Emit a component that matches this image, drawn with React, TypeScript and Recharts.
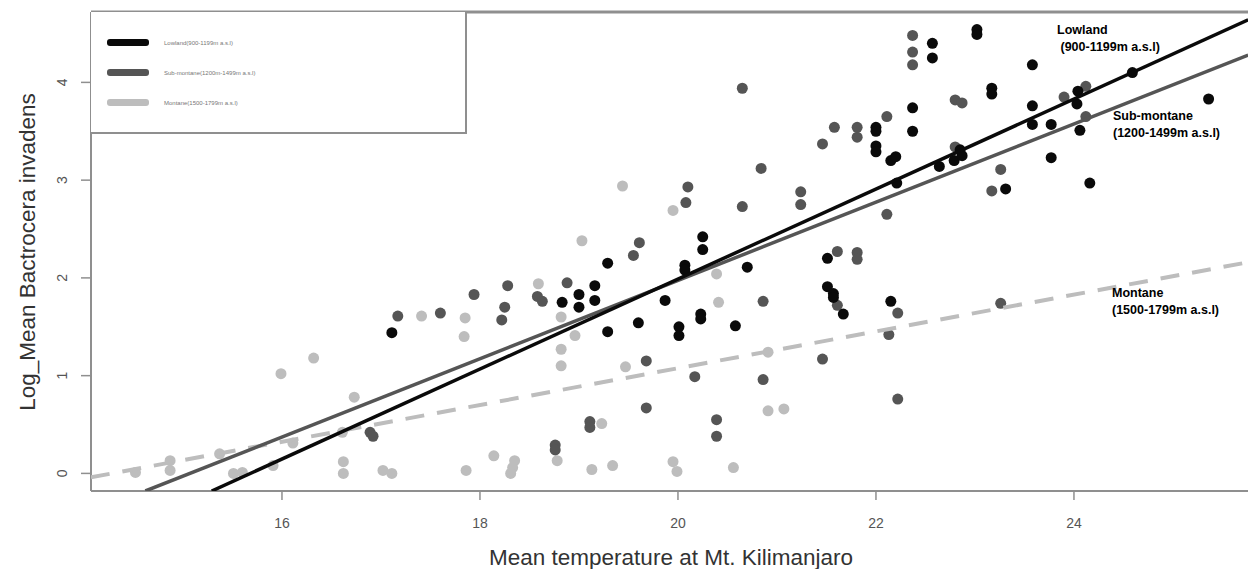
import { ComposedChart, Scatter, XAxis, YAxis, ReferenceLine } from 'recharts';

// Mean temperature (x) vs Log mean B. invadens (y)
const lowlandX = [20.25, 20.25, 19.29, 20.07, 20.07, 20.7, 21.51, 19.16, 19.0, 18.83, 19.16, 19.0, 19.87, 19.29, 19.6, 20.01, 20.01, 20.23, 20.23, 20.58, 21.51, 21.57, 21.57, 21.67, 22.15, 22.57, 22.57, 23.02, 23.02, 23.58, 23.17, 23.17, 22.37, 22.37, 22.0, 22.0, 22.0, 22.0, 22.15, 22.2, 22.21, 22.64, 22.79, 22.85, 22.87, 23.58, 23.58, 23.77, 23.77, 24.04, 24.03, 24.06, 24.59, 25.36, 23.31, 24.16, 17.11];
const lowlandY = [2.42, 2.29, 2.15, 2.13, 2.08, 2.11, 2.2, 1.92, 1.83, 1.75, 1.77, 1.7, 1.77, 1.45, 1.54, 1.5, 1.41, 1.63, 1.58, 1.51, 1.91, 1.84, 1.8, 1.63, 1.76, 4.4, 4.25, 4.54, 4.49, 4.18, 3.94, 3.88, 3.74, 3.5, 3.54, 3.5, 3.35, 3.29, 3.2, 3.24, 2.97, 3.14, 3.2, 3.31, 3.25, 3.76, 3.57, 3.57, 3.23, 3.91, 3.78, 3.51, 4.1, 3.83, 2.91, 2.97, 1.44];

const subMontaneX = [20.84, 20.1, 20.08, 21.24, 21.24, 20.65, 19.61, 19.55, 18.88, 18.28, 17.94, 18.58, 18.63, 20.86, 17.6, 18.25, 18.22, 21.61, 21.61, 19.68, 20.17, 20.86, 21.46, 19.68, 19.11, 19.11, 20.39, 20.39, 18.76, 18.76, 20.65, 21.58, 21.46, 22.37, 22.37, 22.37, 22.8, 22.87, 22.11, 21.81, 21.81, 22.8, 23.9, 24.12, 24.12, 23.26, 23.17, 22.11, 21.81, 21.81, 22.22, 22.13, 23.26, 22.22, 17.17, 16.89, 16.92];
const subMontaneY = [3.12, 2.93, 2.77, 2.88, 2.75, 2.73, 2.36, 2.23, 1.95, 1.92, 1.83, 1.81, 1.76, 1.76, 1.64, 1.7, 1.57, 2.27, 1.72, 1.15, 0.99, 0.96, 1.17, 0.67, 0.53, 0.47, 0.55, 0.38, 0.29, 0.24, 3.94, 3.54, 3.37, 4.48, 4.31, 4.18, 3.82, 3.79, 3.65, 3.54, 3.44, 3.34, 3.85, 3.96, 3.65, 3.11, 2.89, 2.65, 2.26, 2.19, 1.64, 1.42, 1.74, 0.76, 1.61, 0.42, 0.38];

const montaneX = [19.95, 19.44, 19.03, 18.59, 20.39, 20.41, 17.85, 17.84, 18.82, 18.96, 18.82, 18.82, 19.47, 20.91, 20.91, 21.07, 19.23, 18.78, 18.14, 18.35, 18.33, 18.31, 17.86, 19.13, 19.34, 19.95, 19.99, 20.56, 17.41, 16.32, 15.99, 16.73, 16.61, 16.11, 15.37, 14.87, 14.87, 14.52, 15.51, 15.6, 15.91, 16.62, 16.62, 17.02, 17.11];
const montaneY = [2.69, 2.94, 2.38, 1.94, 2.04, 1.75, 1.59, 1.4, 1.6, 1.41, 1.27, 1.1, 1.09, 1.24, 0.64, 0.66, 0.51, 0.13, 0.18, 0.13, 0.06, 0.0, 0.03, 0.04, 0.08, 0.12, 0.02, 0.06, 1.61, 1.18, 1.02, 0.78, 0.42, 0.31, 0.2, 0.13, 0.03, 0.01, 0.0, 0.01, 0.08, 0.12, 0.0, 0.03, 0.0];

// fitted lines, end points as they meet the plot frame
const lowlandFitX = [15.29, 25.76];
const lowlandFitY = [-0.18, 4.64];
const subMontaneFitX = [14.62, 25.76];
const subMontaneFitY = [-0.18, 4.28];
const montaneFitX = [14.07, 25.76];
const montaneFitY = [-0.04, 2.16];

const xTicks = [16, 18, 20, 22, 24];
const yTicks = [0, 1, 2, 3, 4];
const X_DOMAIN: [number, number] = [14.071, 25.758];
const Y_DOMAIN: [number, number] = [-0.18, 4.72];

const zip = (xs: number[], ys: number[]) => xs.map((x, i) => ({ x, y: ys[i] }));

const FONT = "'Liberation Sans', Arial, sans-serif";
const BLACK = '#0a0a0a';
const DARK = '#555555';
const LIGHT = '#bdbdbd';
const FRAME = '#8f8f8f';

const dot = (fill: string) => (props: any) => (
  <circle cx={props.cx} cy={props.cy} r={5.5} fill={fill} />
);
const noDot = () => <g />;

const YTick = (props: any) => {
  const { x, y, payload } = props;
  return (
    <text
      x={x}
      y={y}
      transform={`rotate(-90 ${x} ${y})`}
      textAnchor="middle"
      fontSize={14}
      fontFamily={FONT}
      fill="#555"
    >
      {payload.value}
    </text>
  );
};

const legendItems = [
  { label: 'Lowland(900-1199m a.s.l)', color: BLACK },
  { label: 'Sub-montane(1200m-1499m a.s.l)', color: DARK },
  { label: 'Montane(1500-1799m a.s.l)', color: LIGHT },
];

const sideLabel = { position: 'absolute' as const, fontFamily: FONT, fontWeight: 700, fontSize: 12.5, color: '#000', lineHeight: '17px', whiteSpace: 'pre' as const };

export default function App() {
  return (
    <div style={{ position: 'absolute', left: 0, top: 0, width: 1248, height: 569, background: '#fff', overflow: 'hidden' }}>
      <ComposedChart width={1248} height={569} margin={{ top: 12, right: 0, left: 0, bottom: 0 }}>
        <XAxis
          type="number"
          dataKey="x"
          domain={X_DOMAIN}
          ticks={xTicks}
          allowDataOverflow
          height={78}
          tickSize={9}
          tickMargin={18}
          axisLine={{ stroke: FRAME, strokeWidth: 2 }}
          tickLine={{ stroke: FRAME, strokeWidth: 1.5 }}
          tick={{ fontSize: 14, fontFamily: FONT, fill: '#555' }}
        />
        <YAxis
          type="number"
          dataKey="y"
          domain={Y_DOMAIN}
          ticks={yTicks}
          allowDataOverflow
          width={91}
          tickSize={10}
          tickMargin={14}
          axisLine={{ stroke: FRAME, strokeWidth: 2 }}
          tickLine={{ stroke: FRAME, strokeWidth: 1.5 }}
          tick={YTick}
        />
        <ReferenceLine y={Y_DOMAIN[1]} stroke={FRAME} strokeWidth={3} />
        <Scatter data={zip(montaneX, montaneY)} shape={dot(LIGHT)} isAnimationActive={false} />
        <Scatter data={zip(subMontaneX, subMontaneY)} shape={dot(DARK)} isAnimationActive={false} />
        <Scatter data={zip(lowlandX, lowlandY)} shape={dot(BLACK)} isAnimationActive={false} />
        <Scatter
          data={zip(montaneFitX, montaneFitY)}
          shape={noDot}
          line={{ stroke: LIGHT, strokeWidth: 4, strokeDasharray: '19 13' }}
          isAnimationActive={false}
        />
        <Scatter
          data={zip(subMontaneFitX, subMontaneFitY)}
          shape={noDot}
          line={{ stroke: DARK, strokeWidth: 3.5 }}
          isAnimationActive={false}
        />
        <Scatter
          data={zip(lowlandFitX, lowlandFitY)}
          shape={noDot}
          line={{ stroke: BLACK, strokeWidth: 3.5 }}
          isAnimationActive={false}
        />
      </ComposedChart>

      {/* legend box, top-left corner of the plot */}
      <div
        style={{
          position: 'absolute',
          left: 91,
          top: 12,
          width: 374,
          height: 120,
          borderRight: `2px solid ${FRAME}`,
          borderBottom: `2px solid ${FRAME}`,
          background: '#fff',
        }}
      >
        {legendItems.map((item, i) => (
          <div key={item.label} style={{ position: 'absolute', left: 16, top: 27 + i * 30, display: 'flex', alignItems: 'center' }}>
            <div style={{ width: 42, height: 7, borderRadius: 3, background: item.color }} />
            <span style={{ marginLeft: 15, fontFamily: FONT, fontSize: 6, color: '#777' }}>{item.label}</span>
          </div>
        ))}
      </div>

      {/* line labels on the right */}
      <div style={{ ...sideLabel, left: 1057, top: 22 }}>{'Lowland\n (900-1199m a.s.l)'}</div>
      <div style={{ ...sideLabel, left: 1113, top: 108 }}>{'Sub-montane\n(1200-1499m a.s.l)'}</div>
      <div style={{ ...sideLabel, left: 1112, top: 285 }}>{'Montane\n(1500-1799m a.s.l)'}</div>

      {/* axis titles */}
      <svg width={1248} height={569} style={{ position: 'absolute', left: 0, top: 0, pointerEvents: 'none' }}>
        <text x={671} y={565} textAnchor="middle" fontFamily={FONT} fontSize={22.5} fill="#333">
          Mean temperature at Mt. Kilimanjaro
        </text>
        <text x={35} y={252} transform="rotate(-90 35 252)" textAnchor="middle" fontFamily={FONT} fontSize={22.5} fill="#333">
          Log_Mean Bactrocera invadens
        </text>
      </svg>
    </div>
  );
}
